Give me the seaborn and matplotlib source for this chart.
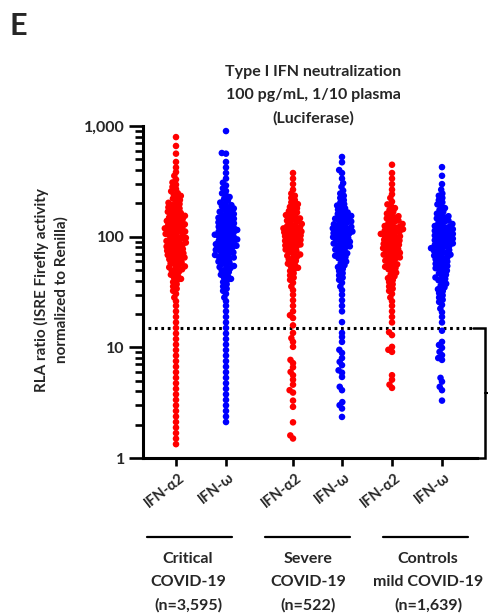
import numpy as np
import pandas as pd
import matplotlib
matplotlib.use("Agg")
import matplotlib.pyplot as plt
from matplotlib.lines import Line2D
from matplotlib.ticker import NullFormatter, NullLocator, FixedLocator
from matplotlib.transforms import ScaledTranslation
import seaborn as sns

# ---------------------------------------------------------------------------
# Data
# ---------------------------------------------------------------------------
# Lower edges (log10 of RLA ratio) of the 0.1-decade bins for the dense cores
bin_lower = np.round(np.arange(0.0, 3.0, 0.1), 1)

# Samples per bin (bins 0.0-0.1 ... 2.9-3.0), one list per column
crit_a2_counts = [0, 2, 2, 2, 2, 2, 2, 2, 2, 2, 2, 2, 2, 2, 3, 5, 8, 11, 13, 14,
                  14, 13, 10, 8, 5, 3, 2, 1, 0, 0]
crit_w_counts = [0, 0, 0, 2, 2, 2, 2, 2, 2, 2, 2, 2, 2, 2, 3, 5, 8, 10, 13, 14,
                 14, 12, 10, 6, 4, 2, 2, 1, 0, 0]
sev_a2_counts = [0, 0, 0, 0, 0, 0, 0, 0, 0, 0, 0, 0, 0, 2, 2, 3, 5, 8, 9, 12,
                 14, 10, 8, 5, 2, 2, 0, 0, 0, 0]
sev_w_counts = [0, 0, 0, 0, 0, 0, 0, 0, 0, 0, 0, 0, 0, 2, 2, 3, 5, 6, 9, 12,
                14, 12, 8, 5, 3, 2, 0, 0, 0, 0]
ctrl_a2_counts = [0, 0, 0, 0, 0, 0, 0, 0, 0, 0, 0, 0, 2, 2, 3, 5, 6, 9, 12, 13,
                  14, 10, 6, 3, 2, 2, 1, 0, 0, 0]
ctrl_w_counts = [0, 0, 0, 0, 0, 0, 0, 0, 0, 0, 0, 1, 2, 3, 5, 6, 8, 10, 12, 14,
                 14, 10, 6, 5, 2, 1, 0, 0, 0, 0]

# Isolated samples outside the dense cores (RLA ratio)
crit_a2_extra = [660, 794]
crit_w_extra = [570, 900]
sev_a2_extra = [1.5, 1.6, 2.1, 2.9, 3.3, 3.9, 4.1, 4.6, 5.1, 5.6, 6.0, 6.6, 7.2,
                7.7, 10.1, 11.2, 12.1, 13.5, 15.8, 18.4, 19.5]
sev_w_extra = [2.35, 2.8, 3.0, 3.2, 4.1, 4.4, 5.4, 5.9, 6.2, 6.9, 7.4, 8.0, 8.9,
               9.5, 11.2, 12.4, 13.5, 16.9, 400, 470, 525]
ctrl_a2_extra = [4.3, 4.6, 5.1, 5.6, 9.1, 9.5, 10.1, 12.9, 13.7]
ctrl_w_extra = [3.3, 4.1, 4.4, 4.9, 5.3, 7.7, 8.0, 8.5, 9.1, 9.9, 10.5, 11.2, 425]

cytokines = ["IFN-\u03b12", "IFN-\u03c9"]
group_labels = [
    ["Critical", "COVID-19", "(n=3,595)"],
    ["Severe", "COVID-19", "(n=522)"],
    ["Controls", "mild COVID-19", "(n=1,639)"],
]
neutralization_threshold = 15
ytick_values = [1, 10, 100, 1000]
ytick_labels = ["1", "10", "100", "1,000"]

# ---------------------------------------------------------------------------
# Long table: one row per plasma sample
# ---------------------------------------------------------------------------
column_counts = [crit_a2_counts, crit_w_counts, sev_a2_counts,
                 sev_w_counts, ctrl_a2_counts, ctrl_w_counts]
column_extra = [crit_a2_extra, crit_w_extra, sev_a2_extra,
                sev_w_extra, ctrl_a2_extra, ctrl_w_extra]
column_pos = [0.0, 1.0, 2.34, 3.32, 4.32, 5.32]   # x position of each column

rows = []
for j, (counts, extra) in enumerate(zip(column_counts, column_extra)):
    cyto = cytokines[j % 2]
    for lo, n in zip(bin_lower, counts):
        for k in range(n):
            rows.append((column_pos[j], cyto, 10 ** (lo + (k + 0.5) / n * 0.1)))
    for v in extra:
        rows.append((column_pos[j], cyto, v))
df = pd.DataFrame(rows, columns=["pos", "cytokine", "ratio"])

# ---------------------------------------------------------------------------
# Figure
# ---------------------------------------------------------------------------
sns.set_style("ticks")
plt.rcParams["font.family"] = ["Lato", "DejaVu Sans"]
plt.rcParams["font.weight"] = "bold"

W, H = 488, 616
fig = plt.figure(figsize=(W / 100, H / 100), dpi=100)
ax_l, ax_r, ax_t, ax_b = 143, 477, 126, 458
ax_w = ax_r - ax_l
ax = fig.add_axes([ax_l / W, 1 - ax_b / H, ax_w / W, (ax_b - ax_t) / H])

swarm_size = 2.9   # marker diameter (pt) used to lay out the swarm
dot_size = 4.7     # marker diameter (pt) actually drawn; dots overlap like a dense scatter

sns.swarmplot(data=df, x="pos", y="ratio", hue="cytokine", hue_order=cytokines,
              palette={cytokines[0]: "#ff0000", cytokines[1]: "#0000ff"},
              native_scale=True, log_scale=(False, True), size=swarm_size,
              linewidth=0, legend=False, warn_thresh=1, ax=ax)

ax.set_xlim(-0.66, 6.02)
ax.set_ylim(1, 1000)
ax.set_xlabel("")
ax.set_ylabel("")

# Lay out the swarm once, then keep those positions and draw larger dots
fig.canvas.draw()
for coll in ax.collections:
    if "draw" in coll.__dict__:
        del coll.draw
        coll.set_sizes([dot_size ** 2])

# y axis: log ticks with minor marks
ax.yaxis.set_major_locator(FixedLocator(ytick_values))
ax.set_yticklabels(ytick_labels)
minor_vals = [float(m * 10 ** e) for e in range(3) for m in range(2, 10)]
ax.yaxis.set_minor_locator(FixedLocator(minor_vals))
ax.yaxis.set_minor_formatter(NullFormatter())
ax.yaxis.set_tick_params(which="major", length=10, width=1.9, labelsize=11.5,
                         pad=3, color="black", direction="out", left=True)
ax.yaxis.set_tick_params(which="minor", length=5.8, width=1.9, color="black",
                         direction="out", left=True)

# x axis: one tick per column, rotated labels
ax.set_xticks(column_pos, [cytokines[j % 2] for j in range(6)])
ax.xaxis.set_minor_locator(NullLocator())
ax.tick_params(axis="x", which="major", length=6, width=1.9, pad=7,
               labelsize=10.5, color="black", direction="out")
shift = ScaledTranslation(7 / 100, 0, fig.dpi_scale_trans)
for lab in ax.get_xticklabels():
    lab.set_rotation(38)
    lab.set_ha("right")
    lab.set_va("center")
    lab.set_rotation_mode("anchor")
    lab.set_fontweight("bold")
    lab.set_transform(lab.get_transform() + shift)
for lab in ax.get_yticklabels():
    lab.set_fontweight("bold")

for side in ("top", "right"):
    ax.spines[side].set_visible(False)
for side in ("left", "bottom"):
    ax.spines[side].set_linewidth(2.2)
    ax.spines[side].set_color("black")

# Neutralization threshold and bracket marking neutralizing samples
x0 = (148 - ax_l) / ax_w
x1 = (473 - ax_l) / ax_w
xb = (485 - ax_l) / ax_w
ax.plot([x0, x1], [neutralization_threshold] * 2, transform=ax.get_yaxis_transform(),
        color="black", lw=2.2, ls=(0, (0.9, 1.2)), clip_on=False)
ax.plot([x1, xb, xb, x1], [neutralization_threshold, neutralization_threshold, 1, 1],
        transform=ax.get_yaxis_transform(), color="black", lw=1.8, clip_on=False,
        solid_joinstyle="miter")
ax.plot([xb, xb + 0.008], [np.sqrt(neutralization_threshold)] * 2,
        transform=ax.get_yaxis_transform(), color="black", lw=1.5, clip_on=False)

# Axis title
fig.text(51 / W, 1 - 290 / H, "RLA ratio (ISRE Firefly activity\nnormalized to Renilla)",
         rotation=90, ha="center", va="center", multialignment="center",
         fontsize=11, fontweight="bold", linespacing=1.45)

# Panel letter and chart title
fig.text(10 / W, 1 - 26 / H, "E", fontsize=22, fontweight="bold", ha="left", va="center")
for txt, y in zip(["Type I IFN neutralization", "100 pg/mL, 1/10 plasma", "(Luciferase)"],
                  [72, 95, 118]):
    fig.text(313 / W, 1 - y / H, txt, ha="center", va="center",
             fontsize=11.5, fontweight="bold")

# Group underlines and captions
for (xa, xb_, xc), lines in zip([(147, 232, 188), (265, 350, 308), (383, 468, 428)],
                                group_labels):
    fig.add_artist(Line2D([xa / W, xb_ / W], [1 - 537 / H] * 2, color="black", lw=1.6))
    for txt, y in zip(lines, [559, 582, 605]):
        fig.text(xc / W, 1 - y / H, txt, ha="center", va="center",
                 fontsize=11.5, fontweight="bold")

fig.savefig("out.png", dpi=100)
